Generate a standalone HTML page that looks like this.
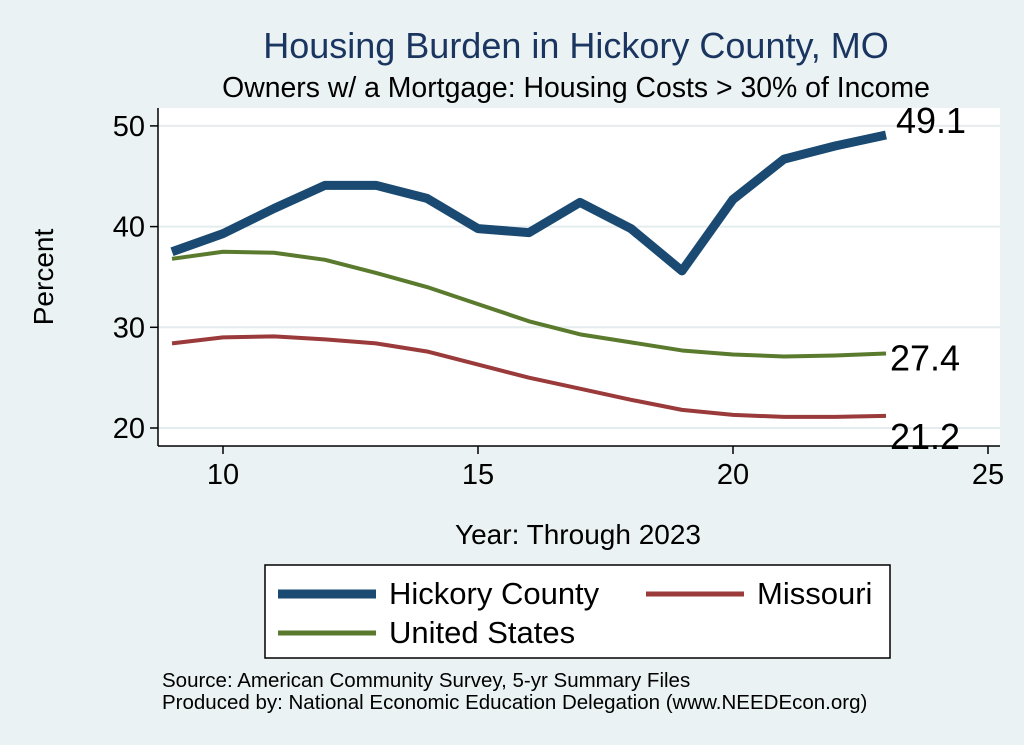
<!DOCTYPE html>
<html><head><meta charset="utf-8"><style>
body{margin:0;background:#eaf2f3;}
svg{display:block;font-family:"Liberation Sans",Arial,sans-serif;}
</style></head><body>
<svg id="chart" width="1024" height="745" viewBox="0 0 1024 745">
<rect x="0" y="0" width="1024" height="745" fill="#eaf2f3"/>
<text x="576" y="58" text-anchor="middle" font-size="36" fill="#1a3560">Housing Burden in Hickory County, MO</text>
<text x="576" y="97" text-anchor="middle" font-size="28.4" fill="#000">Owners w/ a Mortgage: Housing Costs &gt; 30% of Income</text>
<rect x="158" y="108" width="842" height="338" fill="#fff"/>
<g id="grid"></g>
<g id="axes"></g>
<g id="series"></g>
<text transform="translate(53,277) rotate(-90)" text-anchor="middle" font-size="28">Percent</text>
<text x="578" y="544" text-anchor="middle" font-size="28">Year: Through 2023</text>
<g>
<rect x="265" y="565" width="625" height="93" fill="#fff" stroke="#000" stroke-width="1.5"/>
<line x1="278" y1="594" x2="376" y2="594" stroke="#1a4a72" stroke-width="9"/>
<text x="389" y="604" font-size="31">Hickory County</text>
<line x1="646" y1="594" x2="744" y2="594" stroke="#9a3a3a" stroke-width="5"/>
<text x="757" y="604" font-size="31">Missouri</text>
<line x1="278" y1="633" x2="376" y2="633" stroke="#5a7a2e" stroke-width="5"/>
<text x="389" y="643" font-size="31">United States</text>
</g>
<text x="162" y="687" font-size="20.5">Source: American Community Survey, 5-yr Summary Files</text>
<text x="162" y="709" font-size="20.5">Produced by: National Economic Education Delegation (www.NEEDEcon.org)</text>
</svg>
<script>
const years=[9,10,11,12,13,14,15,16,17,18,19,20,21,22,23];
const hickory=[37.5,39.3,41.8,44.1,44.1,42.8,39.8,39.4,42.4,39.8,35.6,42.7,46.7,48.0,49.1];
const unitedStates=[36.8,37.5,37.4,36.7,35.4,34.0,32.3,30.6,29.3,28.5,27.7,27.3,27.1,27.2,27.4];
const missouri=[28.4,29.0,29.1,28.8,28.4,27.6,26.3,25.0,23.9,22.8,21.8,21.3,21.1,21.1,21.2];
const xTicks=[10,15,20,25];
const yTicks=[20,30,40,50];
const NS="http://www.w3.org/2000/svg";
const sx=v=>223+(v-10)*51;
const sy=v=>428-(v-20)*10.07;
function mk(tag,attrs,parent){const e=document.createElementNS(NS,tag);for(const k in attrs)e.setAttribute(k,attrs[k]);parent.appendChild(e);return e;}
const grid=document.getElementById('grid'),axes=document.getElementById('axes'),ser=document.getElementById('series');
yTicks.forEach(t=>{
 const g=mk('line',{x1:158,x2:1000,y1:sy(t),y2:sy(t),stroke:'#e4ecee','stroke-width':2},grid);
 
 
 const tk=mk('line',{x1:150,x2:158,y1:sy(t),y2:sy(t),stroke:'#000','stroke-width':1.5},axes);
 
 
 const tx=mk('text',{x:145,y:sy(t)+10,'text-anchor':'end','font-size':29},axes);
 tx.textContent=t;
 
 
});
xTicks.forEach(t=>{
 const tk=mk('line',{x1:sx(t),x2:sx(t),y1:446,y2:454,stroke:'#000','stroke-width':1.5},axes);
 
 
 const tx=mk('text',{x:sx(t),y:484,'text-anchor':'middle','font-size':29},axes);
 tx.textContent=t;
 
 
});
const ya=mk('line',{x1:158,x2:158,y1:108,y2:446,stroke:'#000','stroke-width':1.5},axes);


const xa=mk('line',{x1:158,x2:1000,y1:446,y2:446,stroke:'#000','stroke-width':1.5},axes);


function line(vals,color,w,name){
 const p=mk('polyline',{points:vals.map((v,i)=>sx(years[i])+','+sy(v)).join(' '),fill:'none',stroke:color,'stroke-width':w,'stroke-linejoin':'round'},ser);
 
 
}
line(missouri,'#9a3a3a',4,'line-missouri');
line(unitedStates,'#5a7a2e',4,'line-united-states');
line(hickory,'#1a4a72',9,'line-hickory-county');
function lab(vals,dx,dy,name){
 const last=vals[vals.length-1];
 const t=mk('text',{x:sx(years[years.length-1])+dx,y:sy(last)+dy,'font-size':36},ser);
 t.textContent=last.toFixed(1);
 
 
}
lab(hickory,10,-2,'end-label-hickory');
lab(unitedStates,4,17,'end-label-us');
lab(missouri,4,33,'end-label-missouri');
</script>
</body></html>
